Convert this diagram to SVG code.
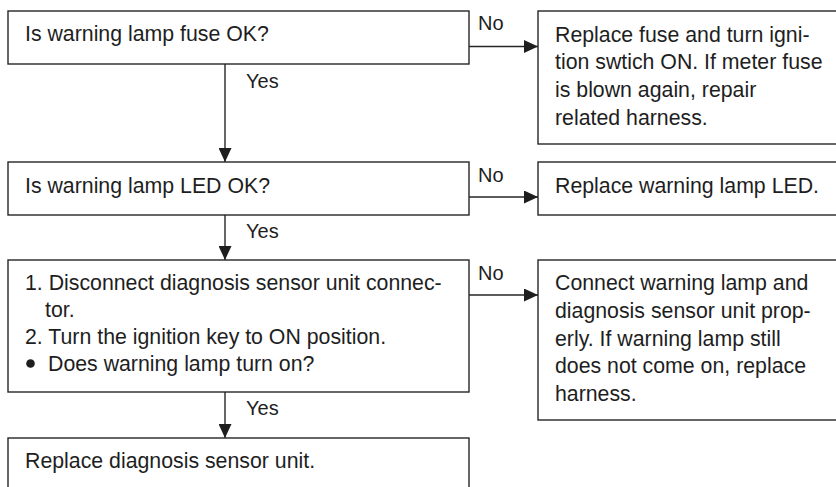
<svg xmlns="http://www.w3.org/2000/svg" width="836" height="487" viewBox="0 0 836 487">
<style>
.box{fill:#fff;stroke:#262626;stroke-width:1.4}
.t{font-family:"Liberation Sans",Arial,Helvetica,sans-serif;font-size:21.3px;fill:#1e1e1e}
.l{font-family:"Liberation Sans",Arial,Helvetica,sans-serif;font-size:20px;fill:#1e1e1e}
.c{fill:none;stroke:#262626;stroke-width:1.4}
</style>
<defs>
<marker id="ah" markerUnits="userSpaceOnUse" markerWidth="15" markerHeight="13" refX="14" refY="6.5" orient="auto">
<path d="M0,0 L14,6.5 L0,13 z" fill="#1e1e1e"/>
</marker>
</defs>
<rect width="836" height="487" fill="#fff"/>
<g id="connectors">
<line class="c" x1="225" y1="64" x2="225" y2="162" marker-end="url(#ah)"/>
<line class="c" x1="225" y1="215" x2="225" y2="260" marker-end="url(#ah)"/>
<line class="c" x1="225" y1="392" x2="225" y2="438" marker-end="url(#ah)"/>
<line class="c" x1="469" y1="46.5" x2="538" y2="46.5" marker-end="url(#ah)"/>
<line class="c" x1="469" y1="197" x2="538" y2="197" marker-end="url(#ah)"/>
<line class="c" x1="469" y1="295" x2="538" y2="295" marker-end="url(#ah)"/>
<text class="l" x="246" y="88">Yes</text>
<text class="l" x="246" y="238">Yes</text>
<text class="l" x="246" y="415">Yes</text>
<text class="l" x="478" y="30">No</text>
<text class="l" x="478" y="181.5">No</text>
<text class="l" x="478" y="280">No</text>
</g>
<g id="q1">
<rect class="box" x="8" y="11" width="461" height="53"/>
<text class="t" x="25" y="41">Is warning lamp fuse OK?</text>
</g>
<g id="a1">
<rect class="box" x="538" y="11" width="310" height="133"/>
<text class="t" x="555" y="41.5">Replace fuse and turn igni-</text>
<text class="t" x="555" y="69.3">tion swtich ON. If meter fuse</text>
<text class="t" x="555" y="97.1">is blown again, repair</text>
<text class="t" x="555" y="124.9">related harness.</text>
</g>
<g id="q2">
<rect class="box" x="8" y="162" width="461" height="53"/>
<text class="t" x="25" y="193">Is warning lamp LED OK?</text>
</g>
<g id="a2">
<rect class="box" x="538" y="162" width="310" height="53"/>
<text class="t" x="555" y="193">Replace warning lamp LED.</text>
</g>
<g id="q3">
<rect class="box" x="8" y="260" width="461" height="132"/>
<text class="t" x="25" y="290">1. Disconnect diagnosis sensor unit connec-</text>
<text class="t" x="45" y="317">tor.</text>
<text class="t" x="25" y="344">2. Turn the ignition key to ON position.</text>
<circle cx="30.5" cy="363.5" r="4.3" fill="#1e1e1e"/>
<text class="t" x="48" y="370.5">Does warning lamp turn on?</text>
</g>
<g id="a3">
<rect class="box" x="538" y="260" width="310" height="160"/>
<text class="t" x="555" y="290">Connect warning lamp and</text>
<text class="t" x="555" y="317.8">diagnosis sensor unit prop-</text>
<text class="t" x="555" y="345.6">erly. If warning lamp still</text>
<text class="t" x="555" y="373.4">does not come on, replace</text>
<text class="t" x="555" y="401.2">harness.</text>
</g>
<g id="a4">
<rect class="box" x="8" y="438" width="461" height="70"/>
<text class="t" x="25" y="468">Replace diagnosis sensor unit.</text>
</g>
</svg>
